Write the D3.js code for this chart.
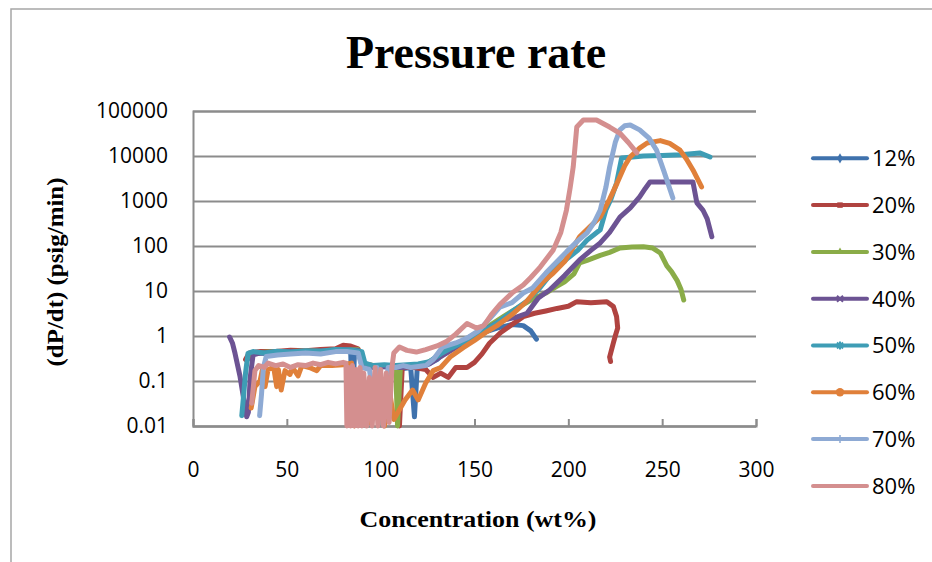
<!DOCTYPE html>
<html lang="en">
<head>
<meta charset="UTF-8">
<script src="https://cdn.jsdelivr.net/npm/d3@7"></script>
<title>Pressure rate</title>
<style>
  body { margin: 0; background: #fff; }
  .tick text { font-family: "Open Sans", sans-serif; font-size: 21px; fill: #000; }
  .legend-label { font-family: "Open Sans", sans-serif; font-size: 22px; fill: #000; }
  .serif { font-family: "Liberation Serif", "Times New Roman", serif; font-weight: bold; fill: #000; }
</style>
</head>
<body>
<div id="chart"></div>
<script>
// series names and colours
var seriesNames = ["12%", "20%", "30%", "40%", "50%", "60%", "70%", "80%"];
var seriesColors = ["#3f72ad", "#b04340", "#8aac48", "#6c5393", "#3e9db5", "#e0803a", "#8eaad4", "#d48f8f"];
var seriesMarkers = ["diamond", "square", "triangle", "x", "star", "circle", "plus", "none"];

var xTicks = [0, 50, 100, 150, 200, 250, 300];
var yTicks = [0.01, 0.1, 1, 10, 100, 1000, 10000, 100000];
var yTickLabels = ["0.01", "0.1", "1", "10", "100", "1000", "10000", "100000"];

// [concentration, dP/dt]
var s12 = [[29,0.3],[31,0.4],[36,0.42],[42,0.4],[48,0.44],[55,0.43],[62,0.45],[70,0.46],[78,0.48],[84,0.47],[85,0.02],[86,0.4],[89,0.45],[91,0.22],[96,0.2],[102,0.21],[108,0.2],[112,0.19],[116,0.2],[118,0.016],[119.5,0.2],[124,0.22],[130,0.3],[136,0.5],[142,0.7],[148,0.95],[155,1.2],[162,1.5],[170,1.8],[176,1.7],[180,1.3],[183,0.85]];
var s20 = [[28,0.3],[30,0.42],[36,0.45],[44,0.45],[52,0.48],[60,0.47],[68,0.5],[76,0.52],[80,0.62],[84,0.6],[88,0.52],[90,0.25],[96,0.22],[104,0.22],[109,0.2],[110,0.01],[111.5,0.2],[118,0.2],[124,0.18],[128,0.12],[132,0.15],[136,0.12],[140,0.2],[146,0.2],[150,0.26],[154,0.4],[158,0.69],[164,1.2],[170,1.8],[176,2.7],[182,3.2],[188,3.6],[194,4.1],[200,4.6],[204.5,5.8],[212,5.5],[220.5,5.8],[224,4.5],[225.7,2.7],[226.3,1.5],[225,1.0],[224,0.7],[222,0.34],[222.5,0.27]];
var s30 = [[30,0.35],[33,0.42],[40,0.44],[50,0.45],[60,0.46],[70,0.47],[80,0.5],[88,0.5],[90,0.24],[96,0.22],[104,0.22],[108,0.2],[109,0.01],[110.5,0.2],[116,0.22],[122,0.22],[128,0.3],[135,0.5],[142,0.7],[150,1.1],[158,1.7],[166,2.8],[174,4.5],[182,7],[188,9],[193.8,12.6],[198,16],[203,24],[206,42],[210,48],[217,62],[222,72],[227.5,90],[234,95],[240,96],[245,90],[249,70],[252.5,36],[255,27],[258,17],[260,11],[261.5,6.3]];
var s40 = [[19.5,0.95],[21,0.7],[22.4,0.41],[25,0.13],[26.8,0.045],[28.6,0.016],[29.5,0.02],[30.5,0.12],[32,0.38],[36,0.42],[44,0.44],[52,0.45],[60,0.45],[70,0.47],[80,0.5],[88,0.48],[90,0.22],[100,0.21],[110,0.2],[120,0.21],[126,0.24],[132,0.35],[140,0.55],[148,0.9],[156,1.4],[164,2.2],[172,2.6],[178,3.2],[184,7],[190,10.5],[198,22],[206,49],[212,80],[217,117],[222,200],[227.5,440],[233,700],[238,1230],[241,1900],[243.5,2630],[250,2650],[258,2650],[266.4,2650],[268.5,910],[271.7,630],[274,400],[276.5,160]];
var s50 = [[26,0.017],[27,0.05],[28,0.15],[29.3,0.41],[32,0.45],[38,0.42],[45,0.46],[52,0.44],[60,0.47],[68,0.46],[76,0.5],[84,0.49],[90,0.45],[91.6,0.25],[96,0.22],[102,0.23],[108,0.22],[114,0.23],[120,0.24],[126,0.27],[132,0.4],[138,0.55],[146,0.8],[153,1.17],[162,1.95],[170,3.5],[178,6],[185,12],[192,28],[200,55],[205,80],[210,135],[217,230],[220,630],[222.5,1050],[225.7,2500],[228.4,9000],[240,10000],[250,10300],[260,10600],[270,11700],[275.5,9500]];
var s60 = [[31,0.025],[33,0.075],[35.7,0.1],[37,0.18],[38.4,0.075],[40,0.18],[43,0.2],[44.6,0.075],[45.5,0.18],[47,0.063],[49,0.17],[51.7,0.14],[53,0.2],[56,0.13],[58,0.22],[62,0.2],[66,0.17],[68,0.22],[74,0.22],[80,0.23],[84.5,0.25],[86,0.01],[90,0.15],[94,0.012],[98,0.1],[102,0.01],[105,0.05],[107,0.014],[110,0.023],[113,0.038],[117,0.063],[120,0.038],[124,0.09],[128,0.17],[132,0.2],[137,0.34],[144,0.55],[150,0.8],[156,1.2],[162,1.7],[170,3],[178,6],[186.5,16],[192,25],[198,45],[206,160],[212,280],[217,440],[222,1100],[226,2500],[230,6000],[233,9600],[238,15000],[242,19500],[249,22000],[254,19000],[259.5,13500],[263,8500],[266.4,4900],[271,2050]];
var s70 = [[35.5,0.017],[36.5,0.05],[37.5,0.2],[39,0.35],[45,0.38],[52,0.4],[60,0.42],[68,0.4],[76,0.45],[82,0.45],[88,0.42],[90,0.2],[94,0.18],[96,0.05],[98,0.2],[102,0.04],[104,0.2],[108,0.2],[112,0.22],[116,0.2],[120,0.21],[124,0.22],[128,0.3],[133,0.57],[140,0.7],[146,0.9],[152,1.3],[158,2.4],[163.5,4.4],[170,5.5],[176,9],[181,11.7],[188,25],[194,45],[199,74],[205,130],[210,195],[214,350],[217,630],[220,2000],[222,5700],[225,20000],[227.5,38000],[230,47000],[233,49000],[238,38000],[243,25000],[247,13500],[251,4500],[255.7,1170]];
var s80 = [[31.3,0.032],[33,0.17],[35,0.22],[38,0.2],[40,0.25],[44,0.22],[48,0.24],[52,0.2],[56,0.23],[60,0.22],[64,0.25],[68,0.23],[72,0.26],[76,0.24],[80,0.26],[81.5,0.25],[82,0.01],[83,0.2],[84,0.01],[85,0.22],[86,0.01],[87,0.18],[88,0.01],[89,0.2],[90,0.01],[91,0.15],[92.5,0.01],[94,0.12],[95.5,0.01],[97,0.2],[98.5,0.01],[100,0.18],[101.5,0.01],[103,0.15],[104.5,0.012],[106,0.2],[107,0.42],[110,0.57],[114,0.48],[119,0.44],[124,0.5],[130,0.6],[135,0.75],[140,1.1],[146,1.9],[151,1.5],[155,1.7],[159,3],[163.5,5],[170,9],[176,13.6],[180,20],[185,34],[192,82],[196,200],[199,630],[201,2000],[202.6,5700],[204.5,44000],[208,63000],[215,63000],[222,44000],[227.5,32000],[232,20000],[236.5,11700]];

var seriesData = [s12, s20, s30, s40, s50, s60, s70, s80];

var width = 932, height = 562;
var svg = d3.select("#chart").append("svg")
    .attr("width", width)
    .attr("height", height);

// chart frame (runs off the right and bottom of the picture)
svg.append("rect")
    .attr("x", 11).attr("y", 9)
    .attr("width", 960).attr("height", 620)
    .attr("fill", "none")
    .attr("stroke", "#a6a6a6")
    .attr("stroke-width", 1.5);

var x = d3.scaleLinear().domain([0, 300]).range([193, 756]);
var y = d3.scaleLog().domain([0.01, 100000]).range([426, 111]);

// y axis with gridlines
var yAxis = svg.append("g")
    .attr("transform", "translate(" + x(0) + ",0)")
    .call(d3.axisLeft(y)
        .tickValues(yTicks)
        .tickFormat(function (d, i) { return yTickLabels[i]; })
        .tickSize(-(x(300) - x(0)))
        .tickPadding(25));
yAxis.select(".domain").attr("stroke", "#8c8c8c").attr("stroke-width", 2);
yAxis.selectAll(".tick line").attr("stroke", "#8c8c8c").attr("stroke-width", 2);

// x axis, ticks point inward
var xAxis = svg.append("g")
    .attr("transform", "translate(0," + y(0.01) + ")")
    .call(d3.axisBottom(x)
        .tickValues(xTicks)
        .tickSize(-7)
        .tickPadding(36));
xAxis.select(".domain").attr("stroke", "#8c8c8c").attr("stroke-width", 2);
xAxis.selectAll(".tick line").attr("stroke", "#8c8c8c").attr("stroke-width", 2);

// data lines
var line = d3.line()
    .x(function (d) { return x(d[0]); })
    .y(function (d) { return y(d[1]); });

seriesData.forEach(function (data, i) {
    svg.append("path")
        .datum(data)
        .attr("d", line)
        .attr("fill", "none")
        .attr("stroke", seriesColors[i])
        .attr("stroke-width", 5)
        .attr("stroke-linejoin", "round")
        .attr("stroke-linecap", "round");
});

// legend
function drawMarker(g, type, color) {
    if (type == "diamond") g.append("path").attr("d", d3.symbol(d3.symbolDiamond, 30)).attr("fill", color);
    else if (type == "square") g.append("path").attr("d", d3.symbol(d3.symbolSquare, 30)).attr("fill", color);
    else if (type == "triangle") g.append("path").attr("d", d3.symbol(d3.symbolTriangle, 25)).attr("fill", color);
    else if (type == "circle") g.append("path").attr("d", d3.symbol(d3.symbolCircle, 55)).attr("fill", color);
    else if (type == "x") g.append("path").attr("d", "M-3,-3L3,3M-3,3L3,-3").attr("stroke", color).attr("stroke-width", 2);
    else if (type == "star") g.append("path").attr("d", "M-3,-3L3,3M-3,3L3,-3M0,-4V4").attr("stroke", color).attr("stroke-width", 2);
    else if (type == "plus") g.append("path").attr("d", "M-4,0H4M0,-4V4").attr("stroke", color).attr("stroke-width", 1.5);
}

seriesNames.forEach(function (name, i) {
    var cy = 158.3 + i * 46.8;
    var g = svg.append("g").attr("transform", "translate(0," + cy + ")");
    g.append("line")
        .attr("x1", 813).attr("x2", 867)
        .attr("stroke", seriesColors[i])
        .attr("stroke-width", 4)
        .attr("stroke-linecap", "round");
    drawMarker(g.append("g").attr("transform", "translate(840,0)"), seriesMarkers[i], seriesColors[i]);
    g.append("text")
        .attr("class", "legend-label")
        .attr("x", 872)
        .attr("dy", "0.36em")
        .text(name);
});

// titles
svg.append("text")
    .attr("class", "serif")
    .attr("x", 476).attr("y", 68)
    .attr("text-anchor", "middle")
    .attr("font-size", 46)
    .text("Pressure rate");

svg.append("text")
    .attr("class", "serif")
    .attr("x", 478).attr("y", 527)
    .attr("text-anchor", "middle")
    .attr("font-size", 24)
    .attr("textLength", 237)
    .attr("lengthAdjust", "spacingAndGlyphs")
    .text("Concentration (wt%)");

svg.append("text")
    .attr("class", "serif")
    .attr("transform", "translate(63,272) rotate(-90)")
    .attr("text-anchor", "middle")
    .attr("font-size", 23)
    .attr("textLength", 189)
    .attr("lengthAdjust", "spacingAndGlyphs")
    .text("(dP/dt) (psig/min)");
</script>
</body>
</html>
